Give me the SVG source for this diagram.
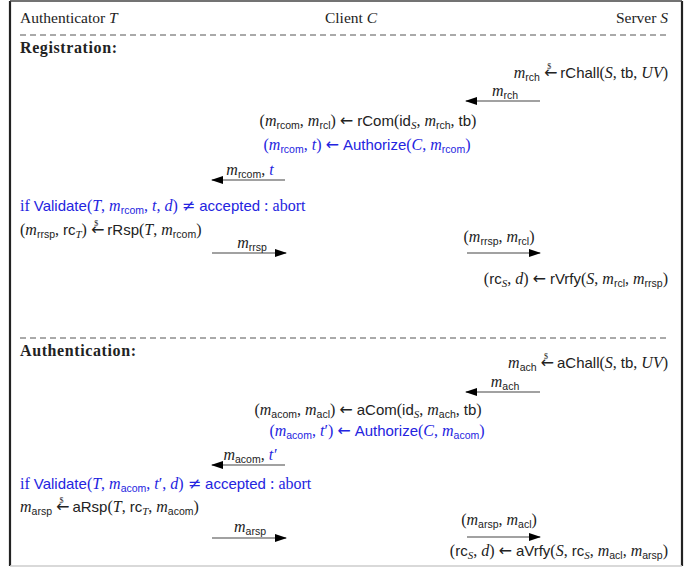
<svg xmlns="http://www.w3.org/2000/svg" width="694" height="567" viewBox="0 0 694 567">
<style>
.h{font-family:"Liberation Serif",serif;font-size:15.5px;fill:#222}
.t{font-family:"Liberation Serif",serif;font-size:16px;fill:#222}
.i{font-style:italic}
.sf{font-family:"Liberation Sans",sans-serif;font-size:15px}
.sub{font-family:"Liberation Sans",sans-serif;font-size:10.5px}
.si{font-family:"Liberation Serif",serif;font-style:italic;font-size:11px}
.sm{font-family:"Liberation Serif",serif;font-size:8px}
.aw{font-family:"DejaVu Sans",sans-serif;font-size:16px}
.bl{fill:#2424e0}
.bold{font-family:"Liberation Serif",serif;font-size:16px;font-weight:bold;fill:#222;letter-spacing:0.6px}
.dash{stroke:#555;stroke-width:1;stroke-dasharray:6 4}
.ar{stroke:#444;stroke-width:1.2;marker-end:url(#ah)}
</style>
<defs>
<marker id="ah" markerUnits="userSpaceOnUse" markerWidth="12" markerHeight="8" refX="11" refY="4" orient="auto">
<path d="M0,0 L12,4 L0,8 z" fill="#000"/>
</marker>
</defs>
<rect x="0" y="0" width="694" height="567" fill="#fff"/>
<g id="frame">
<line x1="10" y1="1" x2="10" y2="566" stroke="#222" stroke-width="2.2"/>
<line x1="682" y1="1" x2="682" y2="566" stroke="#222" stroke-width="2.2"/>
<line x1="10" y1="1" x2="682" y2="1" stroke="#444" stroke-width="1.5"/>
<line x1="10" y1="566" x2="682" y2="566" stroke="#ccc" stroke-width="1.5"/>
</g>
<g id="header">
<text class="h" x="20" y="23">Authenticator <tspan class="i">T</tspan></text>
<text class="h" x="351" y="23" text-anchor="middle">Client <tspan class="i">C</tspan></text>
<text class="h" x="668" y="23" text-anchor="end">Server <tspan class="i">S</tspan></text>
<line class="dash" x1="20" y1="35" x2="668" y2="35"/>
</g>
<g id="registration">
<text class="bold" x="20" y="53">Registration:</text>
<g id="r-chall"><text class="t" x="668" y="78" text-anchor="end"><tspan class="i">m</tspan><tspan class="sub" dy="3">rch</tspan><tspan dy="-3"> </tspan><tspan class="aw">←</tspan><tspan class="sm" dx="-10" dy="-9">$</tspan><tspan dx="5" dy="9"> </tspan><tspan class="sf">rChall</tspan>(<tspan class="i">S</tspan>, <tspan class="sf">tb</tspan>, <tspan class="i">UV</tspan>)</text></g>
<g id="r-com"><text class="t" x="368" y="126" text-anchor="middle">(<tspan class="i">m</tspan><tspan class="sub" dy="3">rcom</tspan><tspan dy="-3">, </tspan><tspan class="i">m</tspan><tspan class="sub" dy="3">rcl</tspan><tspan dy="-3">) </tspan><tspan class="aw">←</tspan> <tspan class="sf">rCom</tspan>(<tspan class="sf">id</tspan><tspan class="si" dy="3">S</tspan><tspan dy="-3">, </tspan><tspan class="i">m</tspan><tspan class="sub" dy="3">rch</tspan><tspan dy="-3">, </tspan><tspan class="sf">tb</tspan>)</text></g>
<g id="r-authorize"><text class="t bl" x="367" y="150" text-anchor="middle">(<tspan class="i">m</tspan><tspan class="sub" dy="3">rcom</tspan><tspan dy="-3">, </tspan><tspan class="i">t</tspan>) <tspan class="aw">←</tspan> <tspan class="sf">Authorize</tspan>(<tspan class="i">C</tspan>, <tspan class="i">m</tspan><tspan class="sub" dy="3">rcom</tspan><tspan dy="-3">)</tspan></text></g>
<g id="r-validate"><text class="t bl" x="20" y="211">if <tspan class="sf">Validate</tspan>(<tspan class="i">T</tspan>, <tspan class="i">m</tspan><tspan class="sub" dy="3">rcom</tspan><tspan dy="-3">, </tspan><tspan class="i">t</tspan>, <tspan class="i">d</tspan>) <tspan class="aw">≠</tspan> <tspan class="sf">accepted</tspan> : abort</text></g>
<g id="r-rsp"><text class="t" x="20" y="235">(<tspan class="i">m</tspan><tspan class="sub" dy="3">rrsp</tspan><tspan dy="-3">, </tspan><tspan class="sf">rc</tspan><tspan class="si" dy="3">T</tspan><tspan dy="-3">) </tspan><tspan class="aw">←</tspan><tspan class="sm" dx="-10" dy="-9">$</tspan><tspan dx="5" dy="9"> </tspan><tspan class="sf">rRsp</tspan>(<tspan class="i">T</tspan>, <tspan class="i">m</tspan><tspan class="sub" dy="3">rcom</tspan><tspan dy="-3">)</tspan></text></g>
<g id="r-vrfy"><text class="t" x="668" y="284" text-anchor="end">(<tspan class="sf">rc</tspan><tspan class="si" dy="3">S</tspan><tspan dy="-3">, </tspan><tspan class="i">d</tspan>) <tspan class="aw">←</tspan> <tspan class="sf">rVrfy</tspan>(<tspan class="i">S</tspan>, <tspan class="i">m</tspan><tspan class="sub" dy="3">rcl</tspan><tspan dy="-3">, </tspan><tspan class="i">m</tspan><tspan class="sub" dy="3">rrsp</tspan><tspan dy="-3">)</tspan></text></g>
</g>
<g id="authentication">
<line class="dash" x1="20" y1="338" x2="668" y2="338"/>
<text class="bold" x="20" y="356">Authentication:</text>
<g id="a-chall"><text class="t" x="668" y="368" text-anchor="end"><tspan class="i">m</tspan><tspan class="sub" dy="3">ach</tspan><tspan dy="-3"> </tspan><tspan class="aw">←</tspan><tspan class="sm" dx="-10" dy="-9">$</tspan><tspan dx="5" dy="9"> </tspan><tspan class="sf">aChall</tspan>(<tspan class="i">S</tspan>, <tspan class="sf">tb</tspan>, <tspan class="i">UV</tspan>)</text></g>
<g id="a-com"><text class="t" x="368" y="415" text-anchor="middle">(<tspan class="i">m</tspan><tspan class="sub" dy="3">acom</tspan><tspan dy="-3">, </tspan><tspan class="i">m</tspan><tspan class="sub" dy="3">acl</tspan><tspan dy="-3">) </tspan><tspan class="aw">←</tspan> <tspan class="sf">aCom</tspan>(<tspan class="sf">id</tspan><tspan class="si" dy="3">S</tspan><tspan dy="-3">, </tspan><tspan class="i">m</tspan><tspan class="sub" dy="3">ach</tspan><tspan dy="-3">, </tspan><tspan class="sf">tb</tspan>)</text></g>
<g id="a-authorize"><text class="t bl" x="377" y="436" text-anchor="middle">(<tspan class="i">m</tspan><tspan class="sub" dy="3">acom</tspan><tspan dy="-3">, </tspan><tspan class="i">t</tspan>′) <tspan class="aw">←</tspan> <tspan class="sf">Authorize</tspan>(<tspan class="i">C</tspan>, <tspan class="i">m</tspan><tspan class="sub" dy="3">acom</tspan><tspan dy="-3">)</tspan></text></g>
<g id="a-validate"><text class="t bl" x="20" y="489">if <tspan class="sf">Validate</tspan>(<tspan class="i">T</tspan>, <tspan class="i">m</tspan><tspan class="sub" dy="3">acom</tspan><tspan dy="-3">, </tspan><tspan class="i">t</tspan>′, <tspan class="i">d</tspan>) <tspan class="aw">≠</tspan> <tspan class="sf">accepted</tspan> : abort</text></g>
<g id="a-rsp"><text class="t" x="20" y="512"><tspan class="i">m</tspan><tspan class="sub" dy="3">arsp</tspan><tspan dy="-3"> </tspan><tspan class="aw">←</tspan><tspan class="sm" dx="-10" dy="-9">$</tspan><tspan dx="5" dy="9"> </tspan><tspan class="sf">aRsp</tspan>(<tspan class="i">T</tspan>, <tspan class="sf">rc</tspan><tspan class="si" dy="3">T</tspan><tspan dy="-3">, </tspan><tspan class="i">m</tspan><tspan class="sub" dy="3">acom</tspan><tspan dy="-3">)</tspan></text></g>
<g id="a-vrfy"><text class="t" x="668" y="556" text-anchor="end">(<tspan class="sf">rc</tspan><tspan class="si" dy="3">S</tspan><tspan dy="-3">, </tspan><tspan class="i">d</tspan>) <tspan class="aw">←</tspan> <tspan class="sf">aVrfy</tspan>(<tspan class="i">S</tspan>, <tspan class="sf">rc</tspan><tspan class="si" dy="3">S</tspan><tspan dy="-3">, </tspan><tspan class="i">m</tspan><tspan class="sub" dy="3">acl</tspan><tspan dy="-3">, </tspan><tspan class="i">m</tspan><tspan class="sub" dy="3">arsp</tspan><tspan dy="-3">)</tspan></text></g>
</g>
<g id="connectors">
<line class="ar" x1="540" y1="101" x2="466" y2="101"/>
<text class="t" x="505" y="96" text-anchor="middle"><tspan class="i">m</tspan><tspan class="sub" dy="3">rch</tspan></text>
<line class="ar" x1="285" y1="180" x2="212" y2="180"/>
<text class="t" x="250" y="175" text-anchor="middle"><tspan class="i">m</tspan><tspan class="sub" dy="3">rcom</tspan><tspan dy="-3">, </tspan><tspan class="i bl">t</tspan></text>
<line class="ar" x1="212" y1="253" x2="286" y2="253"/>
<text class="t" x="252" y="248" text-anchor="middle"><tspan class="i">m</tspan><tspan class="sub" dy="3">rrsp</tspan></text>
<line class="ar" x1="467" y1="253" x2="540" y2="253"/>
<text class="t" x="499" y="242" text-anchor="middle">(<tspan class="i">m</tspan><tspan class="sub" dy="3">rrsp</tspan><tspan dy="-3">, </tspan><tspan class="i">m</tspan><tspan class="sub" dy="3">rcl</tspan><tspan dy="-3">)</tspan></text>
<line class="ar" x1="540" y1="392" x2="466" y2="392"/>
<text class="t" x="505" y="387" text-anchor="middle"><tspan class="i">m</tspan><tspan class="sub" dy="3">ach</tspan></text>
<line class="ar" x1="285" y1="465" x2="212" y2="465"/>
<text class="t" x="250" y="460" text-anchor="middle"><tspan class="i">m</tspan><tspan class="sub" dy="3">acom</tspan><tspan dy="-3">, </tspan><tspan class="i bl">t′</tspan></text>
<line class="ar" x1="212" y1="538" x2="286" y2="538"/>
<text class="t" x="250" y="532" text-anchor="middle"><tspan class="i">m</tspan><tspan class="sub" dy="3">arsp</tspan></text>
<line class="ar" x1="467" y1="537" x2="540" y2="537"/>
<text class="t" x="499" y="525" text-anchor="middle">(<tspan class="i">m</tspan><tspan class="sub" dy="3">arsp</tspan><tspan dy="-3">, </tspan><tspan class="i">m</tspan><tspan class="sub" dy="3">acl</tspan><tspan dy="-3">)</tspan></text>
</g>
</svg>
